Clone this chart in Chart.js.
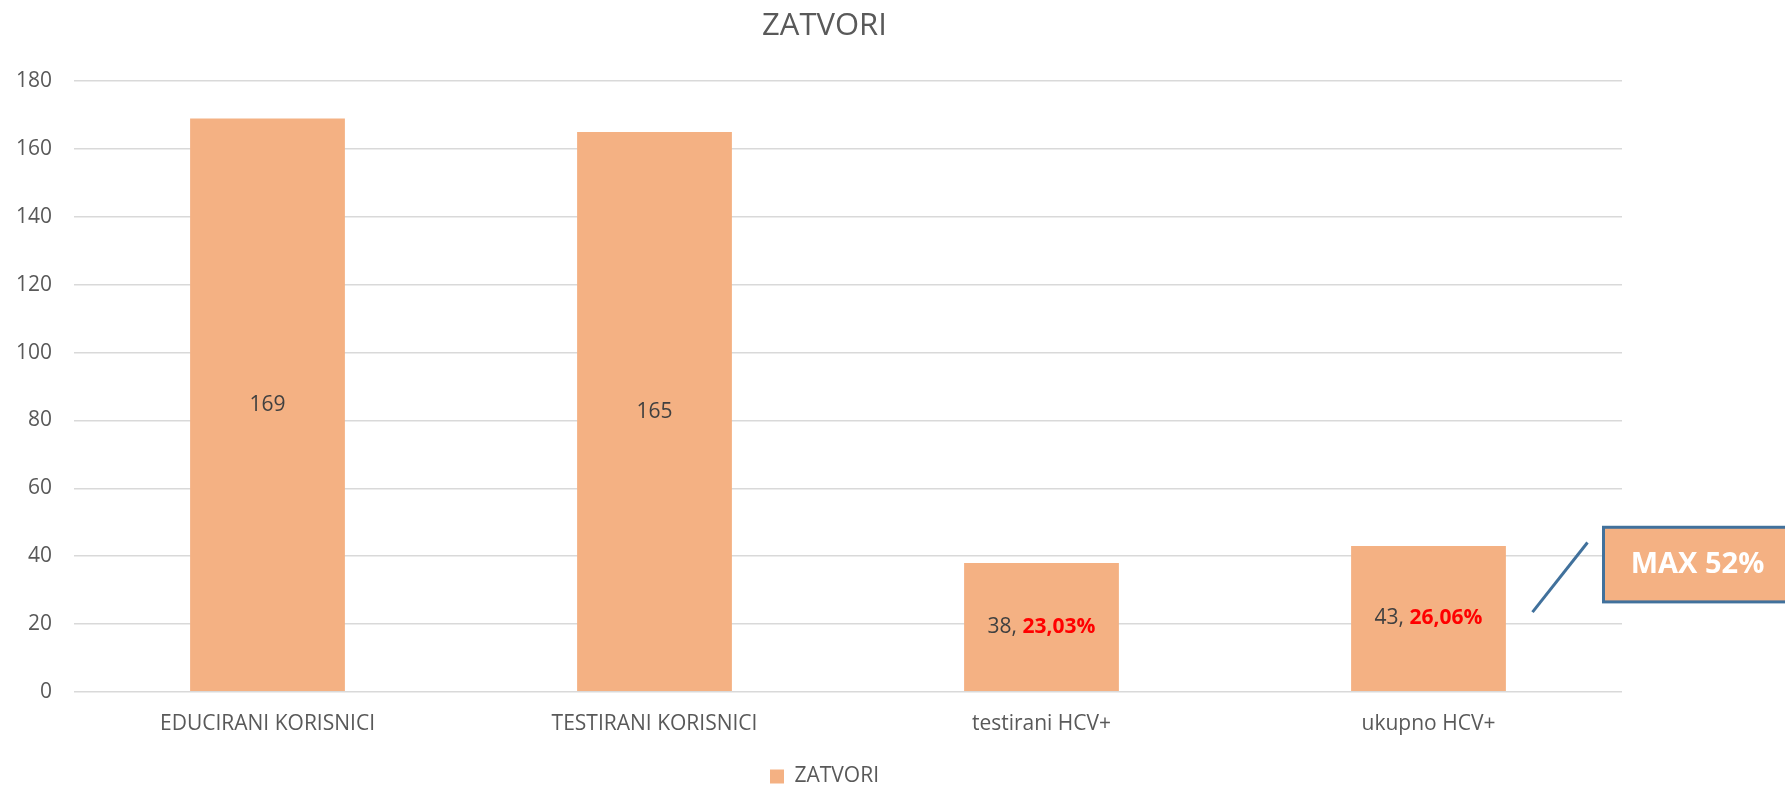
<!DOCTYPE html>
<html>
<head>
<meta charset="utf-8">
<title>ZATVORI</title>
<script src="https://cdn.jsdelivr.net/npm/chart.js@4.4.1/dist/chart.umd.min.js"></script>
<style>
    html, body { margin: 0; padding: 0; overflow: hidden; background: #ffffff; }
    #wrap { width: 1785px; height: 797px; }
</style>
</head>
<body>
<div id="wrap"><canvas id="zatvori-chart" width="1785" height="797"></canvas></div>
<script>
// chart data
const categories = ['EDUCIRANI KORISNICI', 'TESTIRANI KORISNICI', 'testirani HCV+', 'ukupno HCV+'];
const values = [169, 165, 38, 43];
const percentLabels = ['', '', '23,03%', '26,06%'];
const seriesName = 'ZATVORI';
const yMin = 0;
const yMax = 180;
const yStep = 20;
const calloutText = 'MAX 52%';

const barColor = '#F4B183';
const textColor = '#595959';
const fontFamily = "'Open Sans', 'DejaVu Sans', sans-serif";

// Labels inside the bars: value in grey, percentage in bold red
const barLabels = {
    id: 'barLabels',
    afterDatasetsDraw(chart) {
        const ctx = chart.ctx;
        const meta = chart.getDatasetMeta(0);
        ctx.save();
        ctx.textBaseline = 'middle';
        meta.data.forEach((bar, i) => {
            const first = percentLabels[i] ? values[i] + ', ' : String(values[i]);
            const second = percentLabels[i];
            const normalFont = '21px ' + fontFamily;
            const boldFont = 'bold 21px ' + fontFamily;
            ctx.font = normalFont;
            const w1 = ctx.measureText(first).width;
            ctx.font = boldFont;
            const w2 = second ? ctx.measureText(second).width : 0;
            const x0 = bar.x - (w1 + w2) / 2;
            const y = (bar.y + bar.base) / 2;
            ctx.textAlign = 'left';
            ctx.font = normalFont;
            ctx.fillStyle = '#404040';
            ctx.fillText(first, x0, y);
            if (second) {
                ctx.font = boldFont;
                ctx.fillStyle = '#FF0000';
                ctx.fillText(second, x0 + w1, y);
            }
        });
        ctx.restore();
    }
};

// "MAX 52%" callout next to the last bar
const maxCallout = {
    id: 'maxCallout',
    afterDraw(chart) {
        const ctx = chart.ctx;
        const xs = chart.scales.x;
        const ys = chart.scales.y;
        const xc = xs.getPixelForValue(categories.length - 1);

        ctx.save();
        // leader line
        ctx.strokeStyle = '#41719C';
        ctx.lineWidth = 3;
        ctx.beginPath();
        ctx.moveTo(xc + 104, ys.getPixelForValue(23.5));
        ctx.lineTo(xc + 159, ys.getPixelForValue(44));
        ctx.stroke();

        // box
        const left = xc + 175;
        const top = ys.getPixelForValue(48.5);
        const bottom = ys.getPixelForValue(26.5);
        const right = left + 300;
        ctx.fillStyle = barColor;
        ctx.fillRect(left, top, right - left, bottom - top);
        ctx.lineWidth = 3;
        ctx.strokeStyle = '#41719C';
        ctx.strokeRect(left, top, right - left, bottom - top);

        ctx.fillStyle = '#ffffff';
        ctx.font = 'bold 29px ' + fontFamily;
        ctx.textAlign = 'center';
        ctx.textBaseline = 'middle';
        ctx.fillText(calloutText, left + 94, (top + bottom) / 2);
        ctx.restore();
    }
};

const ctx = document.getElementById('zatvori-chart').getContext('2d');
const chart = new Chart(ctx, {
    type: 'bar',
    data: {
        labels: categories,
        datasets: [{
            label: seriesName,
            data: values,
            backgroundColor: barColor,
            borderWidth: 0,
            categoryPercentage: 1.0,
            barPercentage: 0.4
        }]
    },
    options: {
        responsive: false,
        animation: false,
        devicePixelRatio: 1,
        layout: {
            padding: { left: 0, right: 136, top: 0, bottom: 0 }
        },
        scales: {
            x: {
                grid: { display: false, drawTicks: false },
                border: { display: false },
                ticks: {
                    color: textColor,
                    font: { family: fontFamily, size: 21 },
                    padding: 20,
                    maxRotation: 0
                }
            },
            y: {
                min: yMin,
                max: yMax,
                grid: { color: '#D9D9D9', lineWidth: 1.5, drawTicks: false },
                border: { display: false },
                ticks: {
                    stepSize: yStep,
                    color: textColor,
                    font: { family: fontFamily, size: 21 },
                    padding: 22
                },
                afterFit: function (scale) {
                    scale.width = 74;
                }
            },
            yRight: {
                position: 'right',
                display: true,
                grid: { display: false, drawTicks: false },
                border: { display: false },
                ticks: { display: false },
                afterFit: function (scale) {
                    scale.width = 27;
                }
            }
        },
        plugins: {
            title: {
                display: true,
                text: seriesName,
                color: textColor,
                font: { family: fontFamily, size: 31, weight: 'normal' },
                padding: { top: 8, bottom: 36 }
            },
            legend: {
                position: 'bottom',
                labels: {
                    color: textColor,
                    font: { family: fontFamily, size: 21 },
                    boxWidth: 14,
                    boxHeight: 14,
                    padding: 9
                }
            },
            tooltip: { enabled: false }
        }
    },
    plugins: [barLabels, maxCallout]
});
</script>
</body>
</html>
